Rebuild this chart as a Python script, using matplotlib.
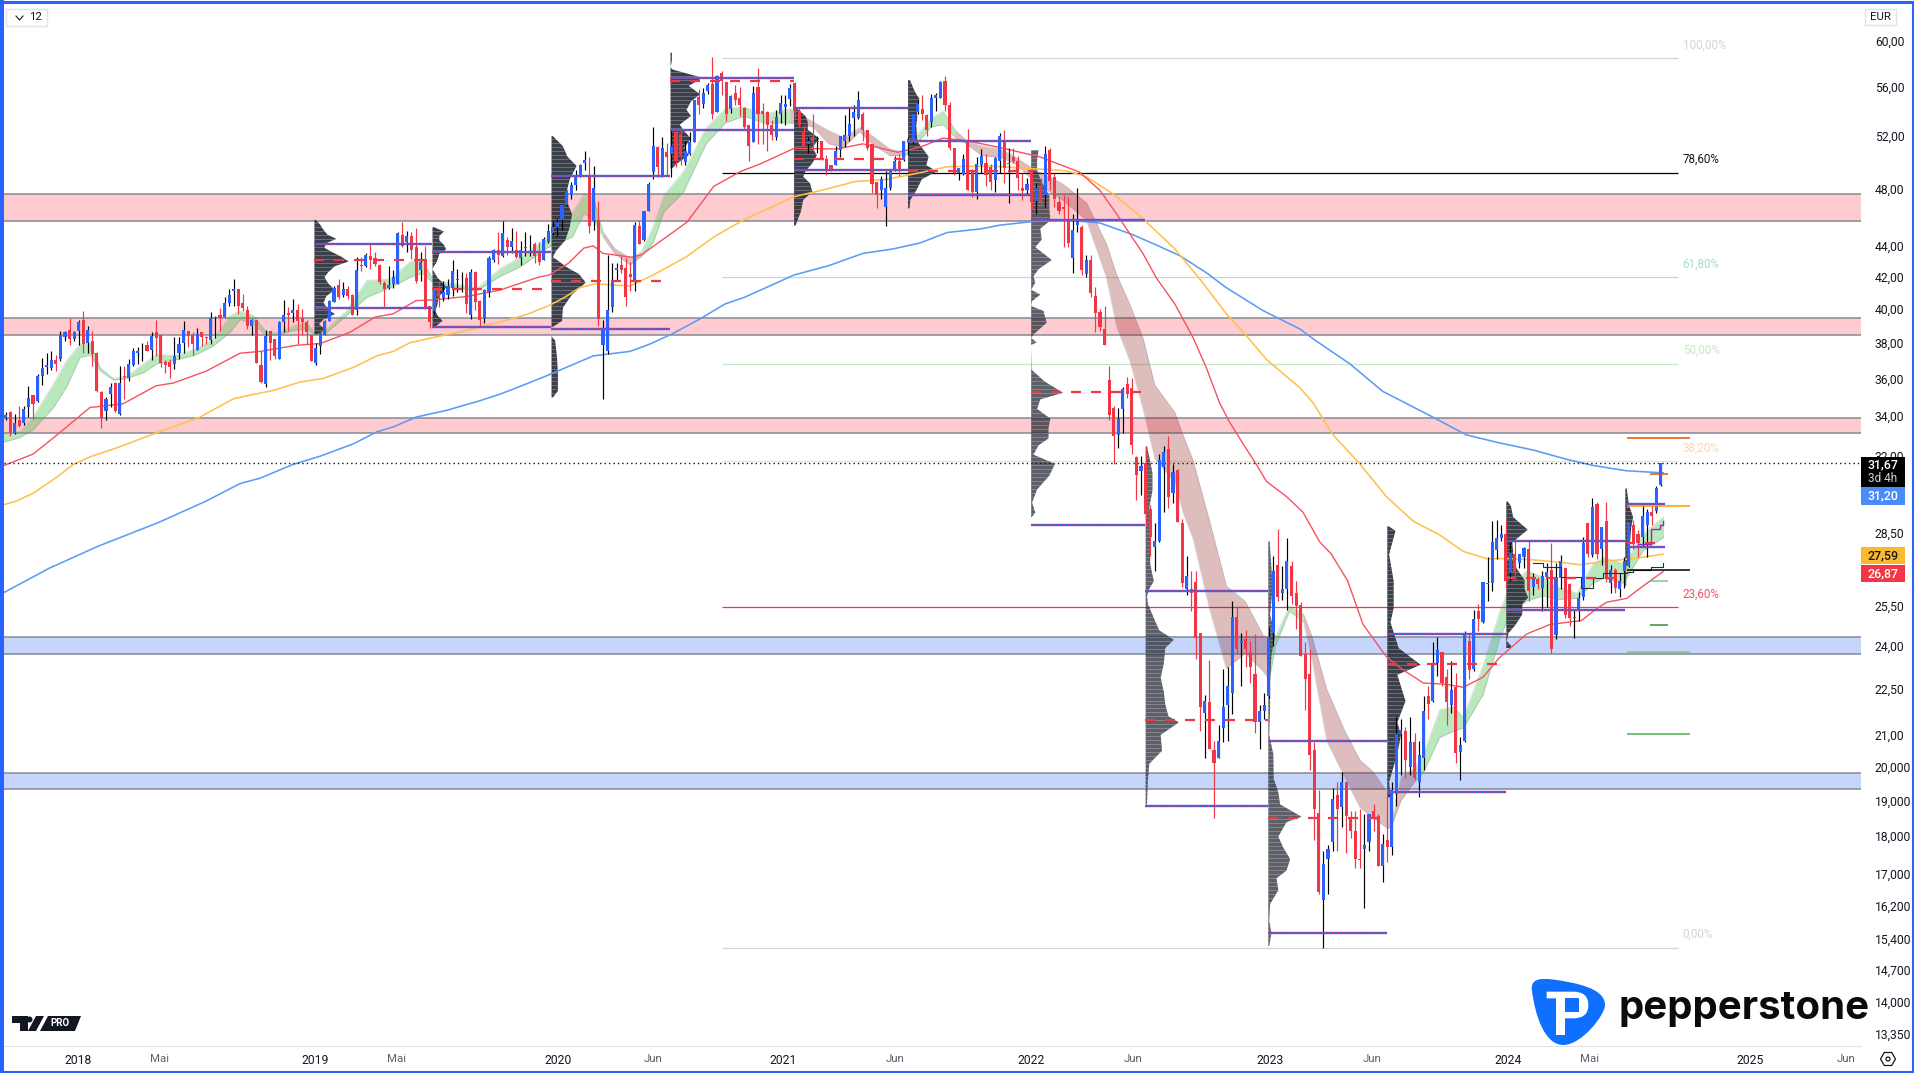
import numpy as np
import pandas as pd
import matplotlib
matplotlib.use("Agg")
import matplotlib.pyplot as plt
from matplotlib.patches import Rectangle, Polygon, PathPatch, Circle, RegularPolygon
from matplotlib.path import Path

plt.rcParams['font.family'] = ['Roboto', 'DejaVu Sans']

# weekly candles (open, high, low, close)
ohlc_2018 = [
 (33.9,34.2,33.8,34.05),(34.2,34.25,33.0,33.15),(33.15,34.1,33.1,33.65),(33.8,34.5,33.45,33.5),(33.65,34.55,33.55,34.35),
 (34.45,35.6,33.95,34.95),(35.1,35.1,33.85,34.65),(34.8,36.25,34.75,36.15),(36.15,37.15,35.65,36.55),(36.6,37.4,36.25,36.75),
 (36.55,37.5,36.45,37.0),(37.0,37.3,36.4,36.8),(37.1,38.65,36.95,38.45),(38.35,38.7,38.1,38.6),(38.75,39.45,37.85,38.2),
 (38.2,38.65,38.1,38.6),(38.7,39.3,37.85,39.2),(39.35,39.85,37.4,37.9),(38.0,38.95,37.4,38.75),(38.1,38.65,36.7,37.35),
 (37.4,37.45,35.25,35.3),(35.25,35.3,33.4,33.9),(34.25,35.0,33.8,34.9),(35.15,35.75,34.45,35.55),(35.75,35.8,34.2,34.25),
 (34.1,36.7,34.05,35.75),(36.15,36.7,34.9,36.1),(36.0,37.05,35.85,36.8),(36.75,37.7,36.7,37.5),(37.4,37.75,36.8,37.5),
 (37.9,38.0,36.95,37.95),(37.85,38.1,37.5,37.55),(37.6,38.6,37.0,38.4),(38.6,39.3,37.25,38.25),(38.45,38.5,36.6,36.85),
 (36.9,37.0,36.3,36.75),(36.9,37.1,36.0,36.65),(36.8,38.35,36.5,37.25),(37.4,38.35,37.05,37.9),(38.0,39.25,37.4,38.75),
 (38.65,38.7,37.75,38.4),(38.45,38.6,37.3,37.95),(37.6,38.85,37.6,38.5),(38.6,38.6,37.8,38.35),(38.3,38.4,37.9,38.25),
 (38.15,39.8,37.9,39.45),(39.45,39.55,38.25,39.5),(39.65,40.05,38.7,39.45),(39.5,40.7,39.5,40.35),(40.35,41.2,40.2,40.85),
 (41.1,41.85,40.2,41.2),(41.2,41.2,39.7,40.15),(40.35,40.9,39.85,40.05),(39.9,40.2,38.8,38.95),(39.0,39.4,38.45,39.3),
 (39.35,39.35,36.85,36.85),(36.75,37.5,35.75,35.8),(35.7,38.75,35.55,38.4),(38.7,38.7,37.0,38.0),(38.2,38.2,37.05,37.25),
 (37.1,39.25,37.1,39.2),(39.2,40.55,38.6,39.6),(39.75,40.1,38.65,39.65),(39.75,40.6,39.2,39.95),(39.95,40.3,37.95,39.25),
 (39.45,40.0,38.45,39.2),(39.2,39.3,37.9,38.6),(38.45,38.45,36.95,36.95),(36.85,38.0,36.75,37.7),(37.8,38.6,37.35,38.55),
 (38.45,39.3,38.45,39.25),(39.25,40.55,39.25,40.5),(40.4,41.4,40.4,41.25),(41.45,41.85,40.6,40.75),(40.85,41.65,40.7,41.2),
 (41.2,41.4,40.6,40.8),(40.85,40.9,39.6,39.65),(39.9,43.25,39.6,42.45),(42.75,43.25,42.35,42.7),(42.65,43.5,42.6,43.4),
 (43.35,44.2,42.5,43.1),(43.2,43.6,42.7,42.8),(42.75,42.8,41.5,41.65),(41.6,41.75,40.05,41.2),(41.25,42.65,41.2,41.45),
 (41.5,42.4,41.3,42.0),(41.55,44.9,41.5,44.85),(44.7,45.65,43.9,44.0),(44.25,45.0,43.6,44.65),(44.65,44.9,43.15,43.75),
 (43.9,45.2,41.6,41.7),(42.4,43.6,41.75,42.95),(43.15,44.0,40.0,40.0),(40.15,40.15,38.85,39.2),(39.85,41.15,39.6,41.15),
 (41.2,41.75,40.1,40.7),(40.65,41.75,40.5,41.05),(40.85,41.85,40.6,41.4),(41.25,43.1,40.8,42.35),(41.8,42.5,41.0,41.85),
 (41.7,42.3,41.0,41.75),(41.9,42.25,39.75,40.3),(39.6,42.5,39.4,42.3),(42.3,42.35,39.9,40.4),(40.5,40.55,38.9,39.3),
 (39.45,41.2,39.15,41.15),(41.0,43.3,40.7,43.2),(43.05,43.8,42.95,43.75),(43.7,44.9,42.8,43.4),
]
ohlc_2020 = [
 (43.3,45.7,43.25,44.85),(44.4,44.6,43.4,43.95),(43.95,45.2,43.5,44.35),(43.75,45.0,43.2,43.25),(43.2,44.35,42.75,43.7),
 (43.85,44.95,43.3,43.95),(43.7,44.7,43.3,43.75),(44.15,44.25,42.85,43.35),(43.5,44.25,42.75,42.95),(43.05,44.6,43.05,44.45),
 (44.25,45.5,44.2,45.0),(44.85,45.65,44.7,45.3),(45.3,45.85,44.65,45.6),(45.75,46.8,45.05,46.8),(46.8,47.9,46.75,47.8),
 (47.5,48.5,47.2,48.25),(48.25,49.35,47.85,49.0),(48.9,49.8,48.85,49.7),(49.85,50.8,49.35,50.1),(48.8,50.35,44.85,45.35),
 (45.7,49.65,45.05,48.05),(45.75,47.1,38.95,39.4),(37.85,39.3,34.9,38.8),(37.55,43.4,37.35,39.9),(40.1,42.85,39.8,41.7),
 (42.4,42.9,41.75,42.55),(42.75,43.35,42.2,42.4),(42.55,43.2,40.2,40.7),(42.15,42.95,41.1,42.0),(41.8,45.6,41.1,45.4),
 (45.35,45.75,44.1,44.15),(44.4,46.35,44.3,46.35),(46.4,48.5,46.35,48.35),(49.2,52.65,48.7,51.15),(51.1,51.2,48.85,49.55),
 (48.95,51.9,48.8,51.0),(50.7,51.45,48.95,50.35),(50.6,52.45,48.85,51.15),(52.3,52.5,49.55,50.05),(52.15,52.45,49.75,50.3),
 (49.95,51.6,49.7,50.8),(50.6,52.3,50.5,51.5),(51.5,54.9,51.5,54.85),(55.1,55.8,53.7,54.5),(54.55,55.9,54.25,55.45),
 (55.65,56.3,55.35,56.1),(56.2,58.55,53.3,53.7),(53.85,57.0,53.85,56.9),(57.15,57.35,55.25,56.45),(56.4,56.4,53.15,53.75),
 (54.1,55.25,53.8,55.2),(55.45,56.15,54.45,54.9),(55.0,56.0,53.55,54.5),(54.25,54.3,52.45,52.65),(52.85,52.85,50.05,51.15),
 (51.5,56.05,51.5,55.5),(56.0,57.6,51.3,53.7),(53.95,54.6,51.3,53.7),(53.9,53.95,50.8,52.85),(52.85,53.25,51.65,52.05),
 (51.85,54.05,51.65,53.45),(53.75,55.25,53.0,54.65),(54.3,55.25,52.85,54.55),(54.95,56.25,54.4,55.85),(56.3,56.4,53.4,53.95),
 (54.0,54.3,52.7,52.85),(52.3,52.85,50.85,51.2),(51.35,51.9,50.65,51.55),(51.9,53.7,50.9,51.6),(51.5,52.0,50.65,51.6),
 (51.55,51.6,50.1,50.2),(50.15,50.5,49.0,49.25),(49.7,49.75,49.25,49.4),(49.75,51.2,49.7,50.8),(50.85,52.0,50.35,51.95),
 (51.6,53.65,51.1,52.05),(52.0,54.3,51.6,52.9),(53.4,54.45,52.0,53.9),(53.4,55.6,53.3,54.9),(53.7,53.9,51.6,52.45),
 (52.4,52.45,50.9,51.0),(51.35,51.35,47.7,48.35),(48.5,48.5,46.6,47.5),(47.85,48.9,47.2,48.7),(46.7,49.25,45.35,48.05),
 (48.05,49.45,47.85,49.4),(49.35,50.45,49.25,50.05),(50.0,50.55,48.9,49.35),(50.1,51.6,50.05,51.55),(51.4,51.85,50.5,51.7),
 (51.55,53.8,51.35,53.75),(53.85,54.9,53.7,54.55),(54.1,55.3,53.25,53.7),(53.65,53.7,52.0,52.4),(53.05,55.4,52.65,55.0),
 (55.0,55.5,53.95,55.25),(55.05,56.45,55.0,56.4),(56.5,56.9,53.95,54.5),(54.45,54.7,50.9,51.0),(51.0,51.0,49.0,49.15),
 (49.15,49.5,48.65,49.5),(49.05,50.55,49.0,50.15),(51.5,52.5,47.9,47.9),(49.35,49.45,47.4,47.75),(47.75,50.3,47.2,49.8),
 (49.7,50.95,49.15,50.45),(49.9,50.55,48.2,49.0),(49.6,49.8,47.9,48.45),(48.65,50.3,47.75,50.25),(50.05,52.2,49.15,52.0),
]
ohlc_2022 = [
 (51.64,52.4,48.4,49.5),(49.8,51.0,46.95,49.9),(50.3,51.0,49.85,50.0),(50.0,50.45,47.85,48.75),(48.0,49.1,47.15,47.8),
 (47.85,48.75,47.5,48.35),(49.35,49.35,46.55,47.0),(47.1,48.4,46.2,48.05),(48.15,48.75,46.65,47.0),(47.5,51.2,46.65,50.6),
 (50.9,51.0,47.85,48.55),(48.85,49.1,46.65,47.25),(47.05,47.35,46.2,46.4),(46.7,47.5,43.95,46.55),(45.8,47.35,43.95,44.2),
 (43.2,46.2,42.25,45.05),(45.4,48.0,44.95,45.6),(45.3,45.4,42.1,42.4),(42.15,43.4,42.0,43.05),(43.05,43.4,40.7,40.95),
 (40.8,41.35,38.6,39.75),(39.8,40.0,38.7,38.9),(38.8,40.15,37.85,37.85),(35.9,36.7,33.8,34.05),(34.4,34.5,31.6,33.0),
 (33.05,34.4,32.4,33.85),(34.35,35.55,33.15,35.4),(35.7,36.05,34.95,35.15),(35.5,36.0,32.1,32.55),(31.95,32.0,29.95,31.1),
 (31.3,32.0,30.15,31.55),(31.65,32.5,28.8,29.3),(29.55,29.7,27.5,28.33),(27.9,28.9,26.9,28.15),(28.15,32.1,28.1,31.8),
 (31.5,32.5,29.4,32.2),(32.35,33.0,29.6,30.1),(30.25,31.6,29.8,31.25),(31.35,31.4,28.95,28.95),(28.9,29.1,26.25,26.4),
 (26.15,27.5,25.95,26.7),(26.15,26.9,25.3,26.0),(26.45,26.9,23.55,24.3),(24.5,24.5,21.1,21.9),(21.7,22.3,20.25,22.1),
 (22.05,23.5,20.55,20.55),(20.5,20.8,18.5,20.1),(20.25,21.3,20.25,20.8),(21.2,23.2,20.75,21.9),(21.95,23.25,20.8,22.6),
 (22.35,25.7,21.65,25.1),(25.1,25.45,23.7,23.9),(24.1,24.5,22.6,24.2),(24.25,24.6,23.25,23.9),(23.8,24.2,22.7,23.25),
 (23.0,24.45,21.05,21.4),(21.4,21.95,20.55,21.75),(21.75,22.35,21.5,21.95),(22.25,24.7,22.2,24.35),(24.5,27.5,24.0,26.9),
 (27.15,28.65,25.7,25.85),(26.0,27.1,25.75,26.15),(26.15,28.25,25.35,27.3),(27.1,27.3,25.6,25.9),(26.0,26.5,24.65,25.5),
 (25.55,25.65,23.65,23.65),(23.7,24.15,21.8,22.85),(23.0,23.9,19.9,20.35),(20.5,20.75,17.9,18.75),(18.65,19.3,16.5,16.55),
 (16.35,17.6,15.2,17.25),(17.4,17.75,16.5,17.65),(17.85,19.35,17.6,19.05),(19.15,19.55,17.6,18.75),(18.8,19.85,18.25,19.55),
 (19.55,19.55,17.55,18.55),(18.5,18.7,17.95,18.15),(18.15,18.7,17.15,17.4),(17.4,18.75,17.15,17.35),(17.65,18.6,16.15,17.75),
 (17.85,18.6,17.6,18.6),(18.7,18.9,18.15,18.5),(18.55,18.6,17.2,17.2),(17.2,18.05,16.8,17.8),(17.9,19.2,17.3,17.7),
 (17.7,19.55,17.5,19.3),(19.2,21.55,18.85,21.0),(21.0,21.5,19.75,21.15),(21.1,21.25,19.65,20.2),(20.0,21.55,19.75,20.75),
 (20.75,21.05,19.6,19.65),(19.55,20.8,19.1,20.35),(20.25,22.25,19.9,21.75),(22.25,22.6,21.5,22.0),(22.1,24.15,22.05,23.4),
 (23.4,24.35,22.95,23.85),(23.8,23.8,22.6,22.7),(22.9,23.2,21.3,22.05),(21.95,23.45,21.7,22.45),(22.55,23.05,20.1,20.4),
 (20.45,20.9,19.6,20.65),(20.8,24.55,20.75,24.4),(24.2,24.5,22.85,23.15),(23.2,25.35,23.1,25.0),(25.3,25.6,24.55,25.0),
 (24.9,26.45,24.85,26.45),(26.35,27.45,25.7,26.4),(26.4,29.0,26.1,28.1),(27.75,29.05,27.4,28.25),(28.25,28.85,28.15,28.45),
 (28.45,29.05,26.2,26.5),(26.8,28.1,26.5,27.65),(27.6,28.15,26.5,26.8),(27.2,27.6,27.0,27.6),(27.45,27.9,27.0,27.85),
 (27.8,28.15,25.7,26.1),(26.25,26.8,25.95,26.6),(26.55,26.65,26.15,26.35),(26.2,26.9,25.3,26.7),(26.65,27.2,25.45,26.85),
 (26.95,28.05,23.75,23.9),(24.4,27.2,24.25,26.65),(26.6,27.55,26.15,27.3),(27.0,27.0,25.05,25.15),(26.35,26.4,24.75,25.05),
 (25.05,25.4,24.3,25.1),(25.3,26.05,24.95,25.8),(25.85,28.3,25.75,28.05),(28.9,28.9,27.45,27.6),(27.55,30.05,27.45,29.65),
 (29.75,29.85,27.4,27.6),(27.8,28.75,27.15,28.75),(29.0,29.85,26.45,26.55),(26.4,27.15,26.0,26.95),(26.95,27.0,26.0,26.2),
 (26.15,26.8,25.85,26.5),(26.9,27.45,26.2,27.3),(27.1,29.0,27.05,28.95),(28.85,29.05,27.8,28.0),(28.45,28.6,27.45,28.05),
 (28.3,29.7,27.95,29.25),(28.85,29.55,27.45,29.4),(29.4,29.75,28.85,29.25),(29.45,30.6,29.35,30.5),(30.65,31.67,30.6,31.67),
]

# moving averages, read at knots along the bars
ma50_idx = [-1,6,11,18.5,20.7,25.8,33,36.8,44,51.4,55.8,63.8,69,75.5,81,85,90,94,101,108.4,116.7,119.2,123.4,126.8,128.9,131,137.3,139.4,149.4,155.3,161.2,165.4,172.9,182.2,188,195.6,200.6,205.6,210.7,218.2,226.8,235.5,240,243.6,249.4,252.4,256.4,260.4,263.3,266.2,268.4,271.4,274.3,276.5,280.9,284.5,288.2,290.7,294.3,297.7,302.9,306.5,310.9,316,319.7,324,327.7,333.6,338.7,345.6,348.9,351.1,355.5,359.2,363.5]
ma50 = [31.5,32.1,33.0,34.45,34.5,34.65,35.6,35.75,36.4,37.4,37.5,37.85,37.95,38.6,39.5,39.7,40.5,40.55,40.75,41.15,41.95,42.1,42.85,43.85,44.0,43.5,43.25,43.4,45.6,48.15,49.25,49.8,51.0,50.95,51.35,50.7,51.1,51.8,51.6,51.05,50.35,49.2,47.85,46.2,43.5,41.9,40.3,38.3,36.6,34.7,33.7,32.6,31.6,30.8,30.1,29.4,28.1,27.6,26.5,24.8,23.6,23.15,22.7,22.65,22.55,22.9,23.6,24.45,24.8,24.95,25.4,25.65,25.8,26.3,26.87]
ma100_idx = [-1,2.4,6,11.2,14.8,18.9,24.3,33.1,42.6,49.9,53.6,58.7,64.5,69.7,76.2,81.4,85,88.7,93.8,101,108.4,114.2,119.2,122.6,125.9,129.3,136.9,142,149.4,155.3,162,172.9,178.8,186.3,193,199.8,206.5,215.7,225.3,232.6,237,242.9,249.4,256.4,261.9,267.7,272.1,276.5,283.8,286.7,291.1,296.9,302.8,308.7,314.5,319.7,324.8,329.9,335,341,345.3,351.1,357,363.5]
ma100 = [29.7,29.9,30.25,31.0,31.6,32.0,32.4,33.15,33.95,34.9,35.1,35.35,35.8,36.0,36.6,37.25,37.5,38.0,38.3,38.7,39.2,39.65,40.2,40.7,41.3,41.55,41.4,42.1,43.3,44.6,45.8,47.4,47.85,48.5,48.65,49.1,49.6,49.65,49.45,49.3,48.85,47.6,45.85,43.8,41.85,39.7,38.4,37.05,35.5,34.7,33.05,31.65,30.1,29.0,28.4,27.7,27.4,27.4,27.35,27.25,27.15,27.3,27.4,27.59]
ma200_idx = [-1,9.5,20,33.6,44,51.4,55.8,63,69,76.2,81.4,85,90,96.7,104,108.4,114.2,119.2,124.3,128.9,136.9,141.1,146.1,152,157.8,162,172.9,180.5,188,194.7,200.6,206.5,214,218,225.3,232.6,240,247.2,252.4,257.5,263.3,267.7,275.7,283.8,287.4,294.8,302,313,320.3,327.6,335,342.3,348.2,355.5,363.5]
ma200 = [25.97,27.0,27.9,28.95,29.9,30.7,30.95,31.6,32.0,32.6,33.2,33.45,33.95,34.3,34.8,35.15,35.7,36.2,36.75,37.25,37.5,37.9,38.5,39.35,40.3,40.7,42.1,42.7,43.5,43.8,44.2,44.9,45.15,45.4,45.65,45.75,45.55,44.75,44.05,43.35,42.25,41.3,39.9,38.8,38.1,36.8,35.3,33.95,33.05,32.65,32.3,31.85,31.55,31.3,31.2]

# ribbon between the two short averages
rib_idx = [-1,3,6,10.5,13.4,16.3,18.5,20.7,23.6,26.5,30.2,33.1,36.8,41.2,45.5,49.2,51.4,54.3,57.2,60.2,63.1,66,67.8,70.4,74.8,79.2,84.3,88.7,91.2,93.8,97.4,103.3,108.4,113,119,124.3,126.8,128.9,131,133.5,136.9,139.4,142,144.4,148.6,153.6,157.8,162,166.2,172,177,180.5,183.8,187.2,190,193.9,197.3,199.8,203,205.6,208.2,210.7,214,218.2,221.6,225.8,231.6,237,241.4,243.6,246.5,249.4,252,256.4,258.2,260.4,264,267.7,271.8,275.8,277.1,278.5,281.5,284.6,286.4,289.7,293.4,297,299.9,303.2,304.3,306,309,311,314.5,317.5,319.7,324,327.7,329.9,333.6,337.2,340.2,344.6,348.2,350.4,354.8,359.2,363.6]
rib_top = [33.1,33.2,33.95,35.7,37.0,37.9,38.0,36.6,36.0,36.1,36.8,37.35,37.25,37.6,38.2,39.6,39.85,39.6,38.6,38.6,39.0,39.15,38.6,38.8,39.9,41.75,41.85,42.95,43.15,41.8,41.6,41.25,42.5,43.3,44.6,46.25,47.6,47.35,44.95,43.85,43.2,43.6,45.3,47.55,49.2,52.6,54.15,54.3,53.7,54.15,53.1,52.4,51.85,52.65,52.0,50.95,50.7,52.0,53.4,53.95,52.45,51.6,51.2,50.95,50.3,49.35,48.4,47.0,44.15,42.15,40.3,38.3,35.65,34.2,33.05,31.8,29.03,26.3,25.7,24.4,24.3,24.35,25.5,25.2,24.4,22.5,21.2,20.2,19.85,19.2,18.6,19.7,19.95,20.4,21.8,21.9,21.55,23.3,25.3,26.3,26.9,26.65,26.25,26.0,27.2,27.45,27.2,28.45,29.2]
rib_bot = [32.65,32.9,33.3,34.45,35.55,37.15,37.3,36.4,35.9,36.0,36.3,36.8,37.0,37.25,37.8,38.6,39.35,39.1,38.4,38.5,38.7,38.8,38.45,38.6,39.6,40.7,41.3,41.95,42.2,41.6,41.35,41.1,42.0,42.65,43.9,44.6,46.2,45.75,44.6,43.5,42.75,43.3,44.2,46.35,47.7,51.35,53.0,53.55,53.0,53.0,52.7,51.35,51.1,52.3,51.35,50.45,50.45,51.35,52.7,52.85,51.85,51.35,50.45,50.3,49.8,48.4,47.2,45.75,41.95,38.95,37.0,34.4,31.9,30.75,29.4,28.25,25.4,23.2,23.75,23.1,22.8,24.0,25.3,24.9,23.6,20.8,19.75,18.8,18.5,18.2,18.4,19.0,19.55,19.85,20.9,21.1,21.2,22.3,24.3,25.2,25.7,25.9,25.75,25.8,26.4,26.6,26.4,27.75,28.3]
rib_green = [(-1,131),(139.4,172),(197.3,208.2),(277.1,284.6),(309,363.6)]
rib_red = [(131,139.4),(172,197.3),(208.2,277.1),(284.6,309)]

# volume profiles: anchor bar, prices, row widths in bars
p1_px = [45.8,45.5,45.2,44.8,44.5,44.2,43.9,43.6,43.3,43.0,42.7,42.3,42.0,41.6,41.2,40.8,40.4,40.0,39.7,39.4,39.1,38.8,38.5]
p1_w = [0.3,1.2,1.8,2.8,4.8,2.5,2.2,4,6,7.5,4.5,3,2.2,3,4.5,2.6,2,3,4.5,2,1,2.5,0.5]
p2_px = [45.3,45.0,44.7,44.4,44.1,43.8,43.5,43.2,42.9,42.7,42.5,42.3,42.0,41.7,41.4,41.1,40.8,40.5,40.2,39.9,39.6,39.3,39.0]
p2_w = [0.3,2.5,1.5,1.5,2.5,3,1.5,1.2,0.8,0.3,0,0.4,1,2,3,2.5,1.5,1.2,1,0.6,1.2,2.2,0.8]
p3_px = [52.0,51.2,50.4,49.7,48.7,47.4,46.2,45.3,44.4,43.7,43.3,42.6,42.2,41.65,40.9,40.1,39.3,38.9,38.4,38.15,37.2,36.3,35.35,35.0]
p3_w = [0.3,2.5,3.5,5.5,4,3,4.5,4,3,1,0.3,3.5,6,7.5,4.5,2.5,2.3,0,0,0.8,1.2,1.4,1.4,0.3]
p4_px = [59.0,58.3,57.7,57.5,56.8,56.1,55.4,54.8,54.1,53.6,52.9,52.4,51.8,51.1,50.5,49.9,49.5]
p4_w = [0.3,0.3,0,0.5,7,4,6.5,4.5,3.5,4.5,2,3,4.5,3,4,1.5,0.3]
p5_px = [54.3,53.6,53.1,52.5,51.8,51.1,50.5,49.9,49.3,48.9,48.4,47.8,47.2,46.4,45.4]
p5_w = [0.3,2.5,3,3,5.5,4,5,4,2.5,2,3.5,4,2,1.5,0.3]
p6_px = [56.6,55.6,55.0,54.3,53.4,52.9,51.6,50.4,49.75,49.3,48.7,48.0,47.2,46.6]
p6_w = [0.4,1.5,2.5,2,2,1.8,2,4.5,4,6.3,3,2,0.5,0.3]
p7_px = [50.9,50.1,49.35,48.5,47.5,46.55,45.75,45.2,44.45,43.95,43.1,42.5,42.05,41.65,41.2,40.9,40.5,40.2,39.9,39.2,38.5,38.3,38.05,37.9,36.5,35.85,35.25,34.9,34.4,33.9,33.4,32.9,32.55,32.1,31.65,31.1,30.45,29.85,29.4,29.2]
p7_w = [1.6,1.3,1.3,2.3,4,4,4.2,2,2.3,0.9,4.5,1.6,0.5,0.9,0,2,0.2,0,2.7,3.4,0.5,0,1.2,0,0.1,3,7,2,1.3,4.2,3.8,3.8,1.6,0.5,5.2,4,1.3,0.2,0.9,0.1]
p8_px = [32.5,31.8,31.2,30.4,29.6,28.8,28.0,27.2,26.5,26.2,25.9,25.6,24.9,24.6,24.25,23.95,23.4,22.9,22.4,22.0,21.6,21.4,21.0,20.5,20.1,19.6,18.9]
p8_w = [0.3,1,1.5,1.5,0.8,1,1,1,1.8,0.8,0.3,0.5,2.2,3,6.2,4.3,4,3.3,4,4.3,5,7.3,3.3,3.6,0.8,0.5,0.3]
p9_px = [28.15,27.0,26.3,25.2,24.4,23.7,22.8,21.9,21.0,20.4,19.65,19.25,18.9,18.55,18.4,18.0,17.7,17.4,17.1,16.9,16.6,16.25,15.85,15.55,15.25]
p9_w = [0.3,0.7,1,0.4,1.5,0.7,0.4,0.4,0.2,1.1,1.2,2.2,2.6,7.3,4,2.2,3.3,4.8,4,1.8,2.2,0.4,0.2,0.7,0.2]
p10_px = [28.8,28.6,27.6,26.5,25.45,24.9,23.95,23.35,23.0,22.1,21.4,21.0,20.4,19.55,19.1]
p10_w = [0.3,1.8,0.4,1.4,1.4,0.7,2.5,7.3,2.2,4,2.2,3,2.2,0.4,0.7]
p11_px = [29.9,29.7,29.2,28.65,28.1,27.75,27.3,26.95,26.55,26.2,25.85,25.6,25.2,24.8,24.5,24.2,24.05,23.95]
p11_w = [0.3,1,1.5,4.7,1.3,1.5,1.5,2.5,4,4,4.8,3.5,3.5,2,0.5,0.1,1,1]
p12_px = [30.5,29.75,29.2,28.75,28.1,27.65,27.05,26.3]
p12_w = [0.3,0.8,1.7,1.3,1.0,0.8,0.2,0.2]
prof_bars = [67.6,93.5,119.6,145.7,172.8,197.8,224.8,249.9,276.8,302.9,329,355.1]
prof_px = [p1_px,p2_px,p3_px,p4_px,p5_px,p6_px,p7_px,p8_px,p9_px,p10_px,p11_px,p12_px]
prof_w = [p1_w,p2_w,p3_w,p4_w,p5_w,p6_w,p7_w,p8_w,p9_w,p10_w,p11_w,p12_w]
prof_end = [93.5,119.6,145.7,172.8,197.8,224.8,249.9,276.8,302.9,329,355.1,364]
prof_vah = [44.1,43.6,48.9,56.7,54.25,51.6,45.75,26.1,20.8,24.45,28.15,29.75]
prof_val = [40.05,38.9,38.8,52.45,49.35,47.55,28.85,18.85,15.55,19.25,25.35,27.9]
prof_poc = [43.1,41.2,41.7,56.5,50.2,49.3,35.25,21.45,18.5,23.35,26.6,28.05]

# support/resistance zones
pink_zones = [(47.6,45.7),(39.45,38.45),(33.9,33.15)]
blue_zones = [(24.35,23.7),(19.8,19.33)]

fib_levels = [58.45,49.15,41.95,36.8,31.75,25.45,15.2]
fib_labels = ["100,00%","78,60%","61,80%","50,00%","38,20%","23,60%","0,00%"]
fib_colors = ["#d1d4dc","#000000","#b2dfdb","#c8e6c9","#ffe0b2","#f23645","#d1d4dc"]
fib_text = ["#d1d4dc","#131722","#a9dcc0","#c5e8c0","#ffd8a8","#f7525f","#d1d4dc"]

side_levels = [32.87,29.66,26.95,23.8,21.0]
side_colors = ["#e65100","#ff9800","#000000","#81c784","#4caf50"]
short_levels = [31.15,26.5,24.8]
short_colors = ["#e65100","#81c784","#388e3c"]
step_idx = [335,337.2,341.2,345.6,348.2,350.3,355.5,357,360.8,363.5]
step_px = [27.2,27.05,26.65,26.2,26.6,26.8,26.85,26.95,27.05,27.2]
purple_idx = [358.1,360.8,362.8,363.5]
purple_px = [28.0,28.65,28.85,29.0]

y_ticks = [60,56,52,48,44,42,40,38,36,34,32,28.5,25.5,24,22.5,21,20,19,18,17,16.2,15.4,14.7,14,13.35]
y_labels = ["60,00","56,00","52,00","48,00","44,00","42,00","40,00","38,00","36,00","34,00","32,00","28,50","25,50","24,00","22,50","21,00","20,000","19,000","18,000","17,000","16,200","15,400","14,700","14,000","13,350"]
x_ticks = [15.9,33.8,67.8,85.8,121.1,141.9,170.5,195,225,247.2,277.3,299.6,329.5,347.4,382.5,403.6]
x_labels = ["2018","Mai","2019","Mai","2020","Jun","2021","Jun","2022","Jun","2023","Jun","2024","Mai","2025","Jun"]

last_price = 31.67
BLUE = "#2962ff"
RED = "#f23645"
W, H = 1915, 1073

df = pd.DataFrame(ohlc_2018 + ohlc_2020 + ohlc_2022, columns=["o", "h", "l", "c"])
df["i"] = df.index

fig = plt.figure(figsize=(W/100, H/100), dpi=100, facecolor="white")
ax = fig.add_axes([4/W, (H-1046)/H, 1857/W, 1042/H])
ax.set_yscale("log")
ax.set_xlim(-0.37, 406.9)
ax.set_ylim(13.1, 63.46)
ax.minorticks_off()

for top, bot in pink_zones:
    ax.axhspan(bot, top, color="#fecbd0", lw=0, zorder=1)
    ax.hlines([top, bot], -1, 407, color="#868993", lw=1.1, zorder=1.1)
for top, bot in blue_zones:
    ax.axhspan(bot, top, color="#c5d5fb", lw=0, zorder=1)
    ax.hlines([top, bot], -1, 407, color="#868993", lw=1.1, zorder=1.1)

# fib lines
for lev, col, lab, tc in zip(fib_levels, fib_colors, fib_labels, fib_text):
    ax.hlines(lev, 157.1, 366.7, color=col, lw=0.9, zorder=1.5)
    ax.annotate(lab, (367.8, lev), xytext=(0, 9.5), textcoords="offset points", color=tc, fontsize=8.4, va="center", ha="left")

# ribbon
rib_i = np.array(rib_idx)
rib_t = np.array(rib_top)
rib_b = np.array(rib_bot)
for spans, col, a in [(rib_green, "#3fc04a", 0.36), (rib_red, "#880e0e", 0.27)]:
    for s, e in spans:
        m = (rib_i >= s) & (rib_i <= e)
        ax.fill_between(rib_i[m], rib_b[m], rib_t[m], color=col, alpha=a, lw=0, zorder=2)
ax.plot(rib_i, rib_t, color="#787b86", alpha=0.25, lw=0.7, zorder=2.1)
ax.plot(rib_i, rib_b, color="#787b86", alpha=0.25, lw=0.7, zorder=2.1)

# profiles, thin pale rows on top so they read as a comb
for n, (b, px, w) in enumerate(zip(prof_bars, prof_px, prof_w)):
    a = 0.76 if n in (6, 7, 8) else 0.92
    ax.fill_betweenx(px, b, b + np.array(w), color="#2a2e39", alpha=a, lw=0, zorder=3)
    rows = np.geomspace(px[-1], px[0], int(np.log(px[0] / px[-1]) * 660 / 4) + 2)
    ax.hlines(rows, b, b + np.interp(rows, px[::-1], w[::-1]), color="white", alpha=0.35, lw=0.5, zorder=3.1)

# moving averages
ax.plot(ma200_idx, ma200, color="#5b9cf6", lw=1.15, zorder=4)
ax.plot(ma100_idx, ma100, color="#ffc04d", lw=1.15, zorder=4)
ax.plot(ma50_idx, ma50, color="#f7525f", lw=1.0, zorder=4)

# candles
up = df[df.c >= df.o]
dn = df[df.c < df.o]
ax.vlines(up.i, up.l, up.h, color="#000000", lw=0.85, zorder=5)
ax.vlines(dn.i, dn.l, dn.h, color=RED, lw=0.85, zorder=5)
ax.bar(up.i, up.c - up.o, bottom=up.o, width=0.68, color=BLUE, lw=0, zorder=5.2)
ax.bar(dn.i, dn.o - dn.c, bottom=dn.c, width=0.68, color=RED, lw=0, zorder=5.2)

# value area and POC
for b, e, vah, val, poc in zip(prof_bars, prof_end, prof_vah, prof_val, prof_poc):
    for lev in (vah, val):
        ax.hlines(lev, b, e, color=BLUE, lw=1.7, zorder=6)
        ax.hlines(lev, b, e, color=RED, lw=1.2, linestyles=(0, (1, 1)), zorder=6.1)
    ax.hlines(poc, b, e, color=RED, lw=1.6, linestyles=(0, (4.5, 4.5)), zorder=6)

# levels on the right
for lev, col in zip(side_levels, side_colors):
    ax.hlines(lev, 355.5, 369.5, color=col, lw=1.1, zorder=6)
for lev, col in zip(short_levels, short_colors):
    ax.hlines(lev, 360.6, 364.5, color=col, lw=1.1, zorder=6)
ax.plot(step_idx, step_px, color="#2a2e39", lw=0.8, drawstyle="steps-post", zorder=5.5)
ax.plot(purple_idx, purple_px, color="#9c27b0", lw=1.0, drawstyle="steps-post", zorder=5.5)

ax.axhline(last_price, color="#131722", lw=1.0, linestyle=(0, (1, 2.2)), zorder=4.5)

ax.set_yticks(y_ticks)
ax.set_yticklabels(y_labels, fontsize=8.7, color="#131722")
ax.yaxis.tick_right()
ax.tick_params(axis="y", length=0, pad=10)
ax.set_xticks(x_ticks)
ax.set_xticklabels(x_labels, fontsize=8.7, color="#131722")
ax.tick_params(axis="x", length=0, pad=5.5)
for t, lab in zip(ax.get_xticklabels(), x_labels):
    if not lab.startswith("20"):
        t.set_color("#5d606b")
        t.set_fontsize(8.2)
for s in ax.spines.values():
    s.set_visible(False)
ax.spines["bottom"].set_visible(True)
ax.spines["bottom"].set_color("#e0e3eb")

# overlay in pixels for badges and logos
ov = fig.add_axes([0, 0, 1, 1], zorder=10)
ov.set_xlim(0, W)
ov.set_ylim(H, 0)
ov.axis("off")
ov.patch.set_alpha(0)

def badge(y0, y1, col, txt, tc, y_text=None):
    ov.add_patch(Rectangle((1861, y0), 44, y1 - y0, color=col, lw=0))
    ov.text(1883, (y0 + y1) / 2 if y_text is None else y_text, txt, color=tc, fontsize=8.9, fontweight="medium", ha="center", va="center")

badge(457, 487, "#000000", "31,67", "white", 465)
ov.text(1883, 479, "3d 4h", color="#d1d4dc", fontsize=8.5, ha="center", va="center")
badge(487, 505, "#4a8cf7", "31,20", "white")
badge(547, 564, "#fbb92d", "27,59", "#131722")
badge(565, 582, RED, "26,87", "white")

# top chips
ov.add_patch(Rectangle((6, 9), 41, 17, fc="white", ec="#e0e3eb", lw=1))
ov.plot([16, 19.5, 23], [16, 20, 16], color="#131722", lw=0.8)
ov.text(36, 17.5, "12", fontsize=8.2, color="#131722", ha="center", va="center")
ov.add_patch(Rectangle((1865, 9), 31, 16, fc="white", ec="#e0e3eb", lw=1))
ov.text(1880.5, 17, "EUR", fontsize=8.2, color="#131722", ha="center", va="center")

# TV PRO logo
dark = "#131722"
ov.add_patch(Polygon([(12, 1016), (28, 1016), (28, 1031), (20, 1031), (20, 1023), (12, 1023)], color=dark, lw=0))
ov.add_patch(Circle((29.5, 1019.5), 3, color=dark, lw=0))
ov.add_patch(Polygon([(36, 1016), (44, 1016), (36, 1031), (28, 1031)], color=dark, lw=0))
ov.add_patch(Polygon([(48, 1016), (81, 1016), (75, 1031), (40, 1031)], color=dark, lw=0))
ov.text(60, 1023.5, "PRO", color="white", fontsize=7, fontweight="bold", ha="center", va="center")

# settings icon
ov.add_patch(RegularPolygon((1888, 1059), 6, radius=7.5, orientation=np.pi / 2, fc="none", ec="#131722", lw=0.9))
ov.add_patch(Circle((1888, 1059), 2, fc="none", ec="#131722", lw=0.9))

# pepperstone logo
def lx(v):
    return 1480 + v / 3
def ly(v):
    return 950 + v / 3
verts = [(155, 115), (155, 85), (185, 85), (215, 88), (290, 98), (375, 115), (375, 165),
         (375, 195), (305, 285), (250, 285), (195, 285), (165, 200), (155, 115)]
codes = [Path.MOVETO] + [Path.CURVE4] * 12
ov.add_patch(PathPatch(Path([(lx(a), ly(b)) for a, b in verts], codes), fc="#0f6fff", lw=0))
ov.add_patch(PathPatch(Path(
    [(lx(a), ly(b)) for a, b in [(200, 125), (280, 125), (325, 125), (325, 165), (325, 205), (280, 205), (255, 205), (255, 255), (228, 255), (228, 145), (200, 145), (200, 125)]],
    [Path.MOVETO, Path.LINETO, Path.CURVE3, Path.CURVE3, Path.CURVE3, Path.CURVE3, Path.LINETO, Path.LINETO, Path.LINETO, Path.LINETO, Path.LINETO, Path.CLOSEPOLY]),
    fc="white", lw=0))
ov.add_patch(Rectangle((lx(255), ly(145)), 14, 13.5, fc="#0f6fff", lw=0))
ov.text(lx(416), ly(208), "pepperstone", fontsize=28.9, fontfamily="Inter", fontweight="bold", color="#0b0b0b", ha="left", va="baseline")

# outer frame
fig.add_artist(Rectangle((1.5/W, 1.5/H), (W-3)/W, (H-3)/H, transform=fig.transFigure, fill=False, ec=BLUE, lw=2.2))
fig.add_artist(Rectangle((0, 0), 4/W, 1, transform=fig.transFigure, color=BLUE, lw=0))

fig.savefig("out.png", dpi=100)
